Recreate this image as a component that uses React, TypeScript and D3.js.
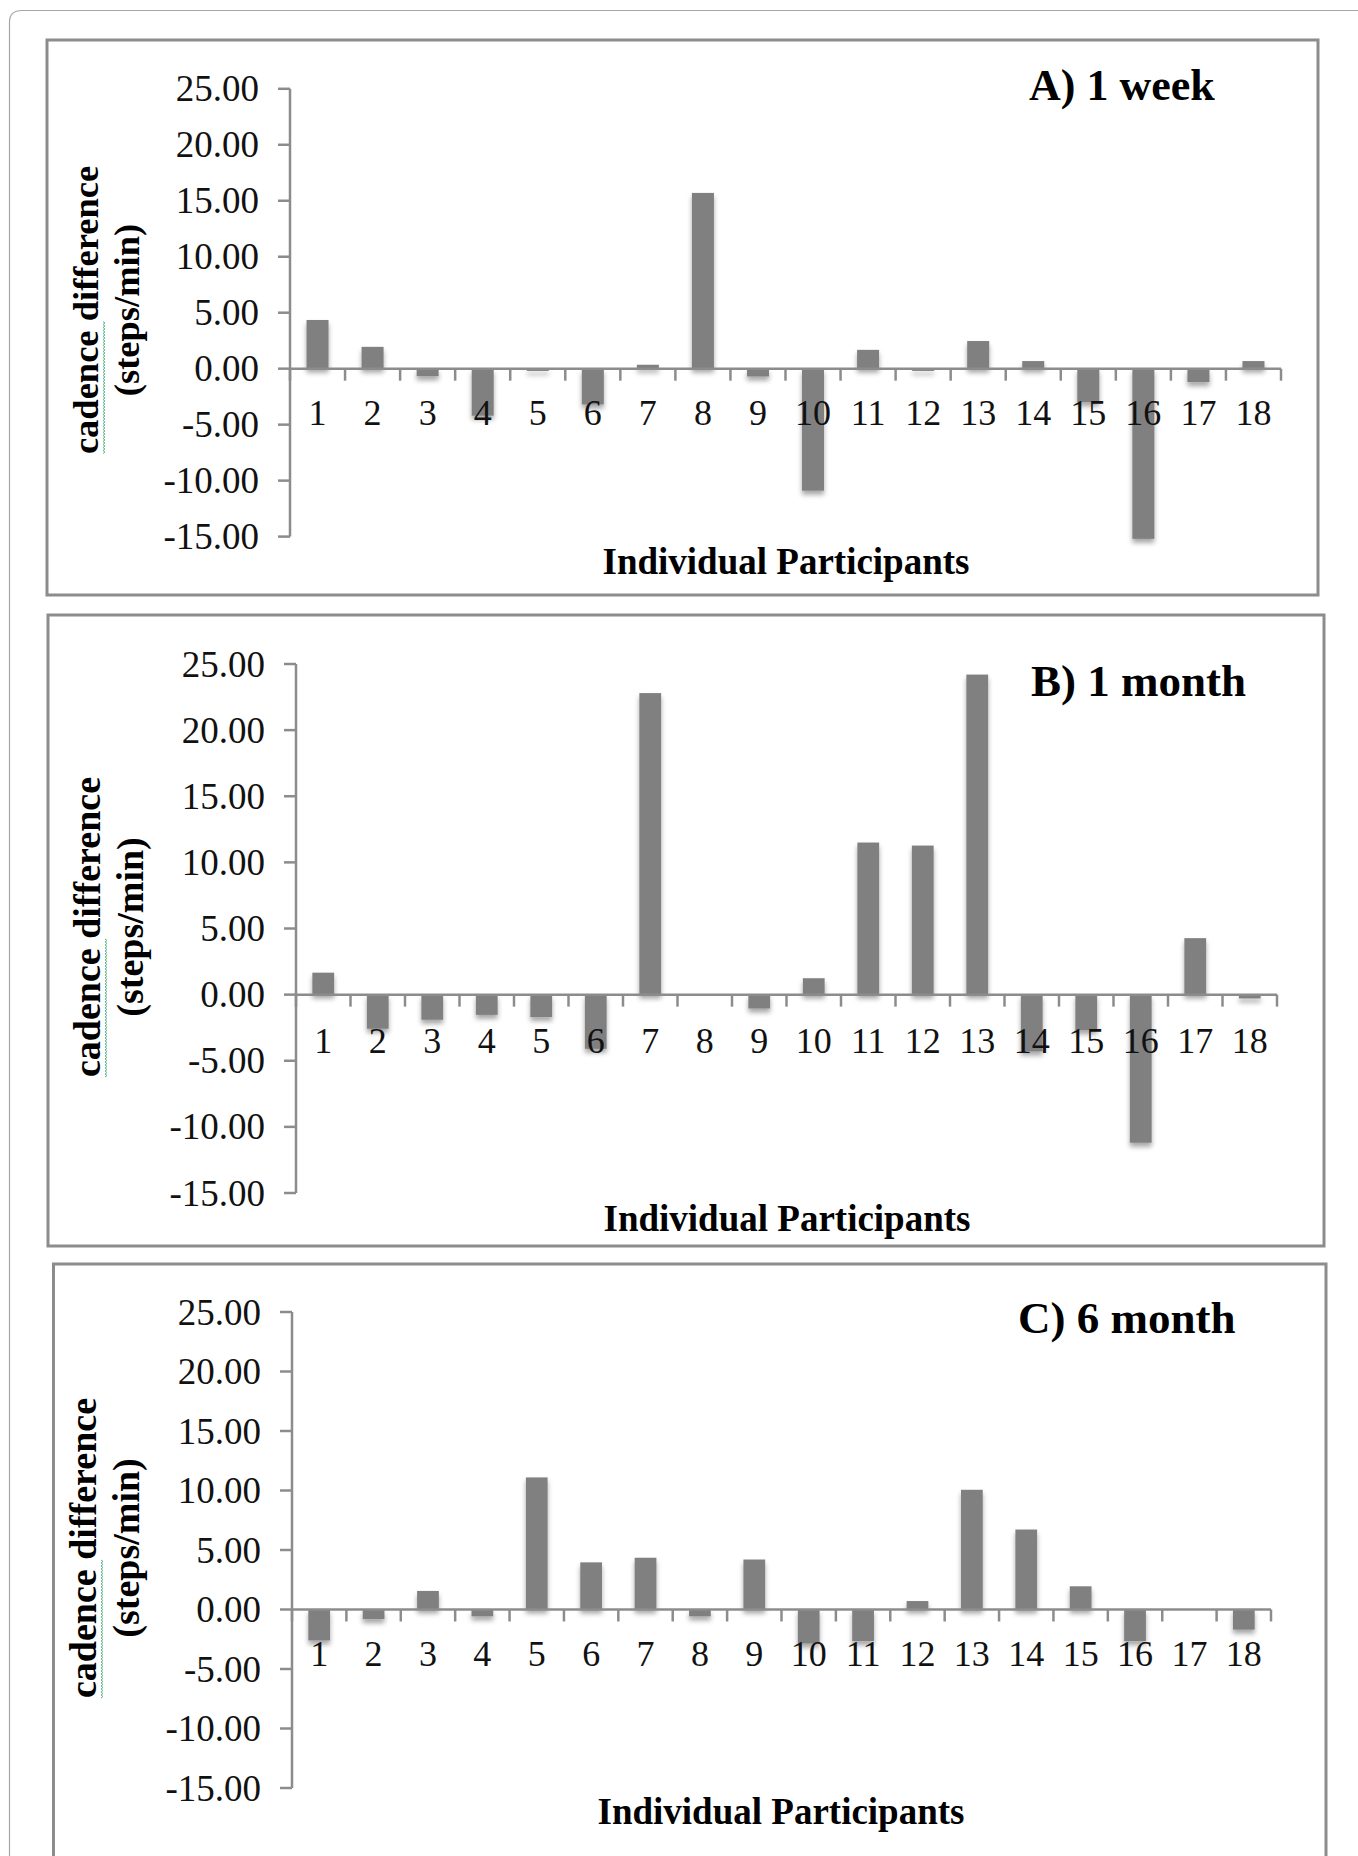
import React from "react";
import * as d3 from "d3";

const width = 1358;
const height = 1856;

// participants 1..18
const participants = ["1","2","3","4","5","6","7","8","9","10","11","12","13","14","15","16","17","18"];
const yTicks = [25, 20, 15, 10, 5, 0, -5, -10, -15];

const weekValues = [4.35, 1.95, -0.68, -4.2, -0.2, -3.2, 0.35, 15.7, -0.7, -10.9, 1.68, -0.2, 2.47, 0.68, -3.0, -15.2, -1.2, 0.68];
const monthValues = [1.66, -2.58, -1.9, -1.53, -1.7, -4.1, 22.8, 0, -1.05, 1.24, 11.5, 11.27, 24.2, -4.3, -2.7, -11.2, 4.27, -0.29];
const sixMonthValues = [-2.6, -0.81, 1.56, -0.58, 11.1, 3.96, 4.35, -0.58, 4.2, -2.86, -2.66, 0.71, 10.06, 6.72, 1.95, -2.66, 0, -1.69];

const panelLabels = ["A) 1 week", "B) 1 month", "C) 6 month"];
const yTitle = ["cadence difference", "(steps/min)"];
const xTitle = "Individual Participants";

const serif = "'Liberation Serif', 'Times New Roman', serif";
const gray = "#8c8c8c";
const barColor = "#808080";

// layout of each panel in the page
const layout = [
  { box: [47, 40, 1318, 595], x0: 290, x1: 1281, yTop: 88.8, yBot: 536.6, label: [1029, 100], labelSize: 44,
    xLabelDy: 56, tx: [98, 139], ty: 310, titleSize: 36.5, xTitleY: 574, xTitleX: 786 },
  { box: [48, 615, 1324, 1246], x0: 296, x1: 1277, yTop: 664, yBot: 1193, label: [1031, 696], labelSize: 45,
    xLabelDy: 58, tx: [100, 143], ty: 927, titleSize: 38, xTitleY: 1231, xTitleX: 787 },
  { box: [53.5, 1264, 1326, 1880], x0: 292, x1: 1271, yTop: 1312, yBot: 1788, label: [1018, 1333], labelSize: 45,
    xLabelDy: 56, tx: [96, 139], ty: 1548, titleSize: 38, xTitleY: 1824, xTitleX: 781 },
];

const series = [weekValues, monthValues, sixMonthValues];
// Excel style: plain hyphen for negatives
const fmt = (v: number) => d3.format(".2f")(v).replace("\u2212", "-");

function squiggle(x: number, y0: number, y1: number) {
  const pts: [number, number][] = [];
  let i = 0;
  for (let y = y0; y <= y1; y += 1.5) {
    pts.push([x + (i % 2 === 0 ? -1 : 1), y]);
    i++;
  }
  return d3.line()(pts) || "";
}

function Panel({ idx }: { idx: number }) {
  const L = layout[idx];
  const values = series[idx];
  const x = d3.scaleBand<string>().domain(participants).range([L.x0, L.x1]).paddingInner(0.6).paddingOuter(0.3);
  const y = d3.scaleLinear().domain([-15, 25]).range([L.yBot, L.yTop]);
  const step = x.step();
  const y0 = y(0);
  const [bx0, by0, bx1, by1] = L.box;
  const cadenceLen = L.titleSize * 3.64;
  const titleLen = L.titleSize * 7.91;

  return (
    <g>
      <rect x={bx0} y={by0} width={bx1 - bx0} height={by1 - by0} fill="white" stroke={gray} strokeWidth={3} />
      {/* bars */}
      <g filter="url(#shadow)">
        {values.map((v, i) => (
          <rect
            key={i}
            x={x(participants[i])}
            width={x.bandwidth()}
            y={Math.min(y(v), y0)}
            height={Math.abs(y(v) - y0)}
            fill={barColor}
          />
        ))}
      </g>
      {/* y axis */}
      <line x1={L.x0} x2={L.x0} y1={y(25)} y2={y(-15)} stroke={gray} strokeWidth={2.5} />
      {yTicks.map((t) => (
        <g key={t}>
          <line x1={L.x0 - 12} x2={L.x0} y1={y(t)} y2={y(t)} stroke={gray} strokeWidth={2.5} />
          <text x={L.x0 - 31} y={y(t)} dy="0.34em" textAnchor="end" fontFamily={serif} fontSize={37} fill="#111">
            {fmt(t)}
          </text>
        </g>
      ))}
      {/* x axis */}
      <line x1={L.x0} x2={L.x1} y1={y0} y2={y0} stroke={gray} strokeWidth={2.5} />
      {d3.range(participants.length + 1).map((k) => (
        <line key={k} x1={L.x0 + k * step} x2={L.x0 + k * step} y1={y0} y2={y0 + 12} stroke={gray} strokeWidth={2.5} />
      ))}
      {participants.map((p) => (
        <text key={p} x={(x(p) as number) + x.bandwidth() / 2} y={y0 + L.xLabelDy} textAnchor="middle"
          fontFamily={serif} fontSize={36} fill="#111">
          {p}
        </text>
      ))}
      {/* titles */}
      <text x={L.label[0]} y={L.label[1]} fontFamily={serif} fontWeight="bold" fontSize={L.labelSize}>
        {panelLabels[idx]}
      </text>
      <text x={L.xTitleX} y={L.xTitleY} textAnchor="middle" fontFamily={serif} fontWeight="bold" fontSize={37}>
        {xTitle}
      </text>
      <text transform={`translate(${L.tx[0]},${L.ty}) rotate(-90)`} textAnchor="middle" fontFamily={serif}
        fontWeight="bold" fontSize={L.titleSize}>
        {yTitle[0]}
      </text>
      <path d={squiggle(L.tx[0] + 6, L.ty + titleLen / 2 - cadenceLen, L.ty + titleLen / 2)} fill="none"
        stroke="#5cb88a" strokeWidth={1} />
      <text transform={`translate(${L.tx[1]},${L.ty}) rotate(-90)`} textAnchor="middle" fontFamily={serif}
        fontWeight="bold" fontSize={L.titleSize}>
        {yTitle[1]}
      </text>
    </g>
  );
}

export default function App() {
  return (
    <svg width={width} height={height} style={{ position: "absolute", left: 0, top: 0, background: "white" }}>
      <defs>
        <filter id="shadow" x="-20%" y="-20%" width="140%" height="140%">
          <feDropShadow dx={0} dy={4} stdDeviation={2.5} floodColor="#000" floodOpacity={0.35} />
        </filter>
      </defs>
      <rect x={0} y={0} width={width} height={height} fill="white" />
      <path d={`M9.5,${height + 5} V22 Q9.5,10.5 22,10.5 H${width + 5}`} fill="none" stroke="#a6a6a6" strokeWidth={1.2} />
      {layout.map((_, i) => (
        <Panel key={i} idx={i} />
      ))}
    </svg>
  );
}
